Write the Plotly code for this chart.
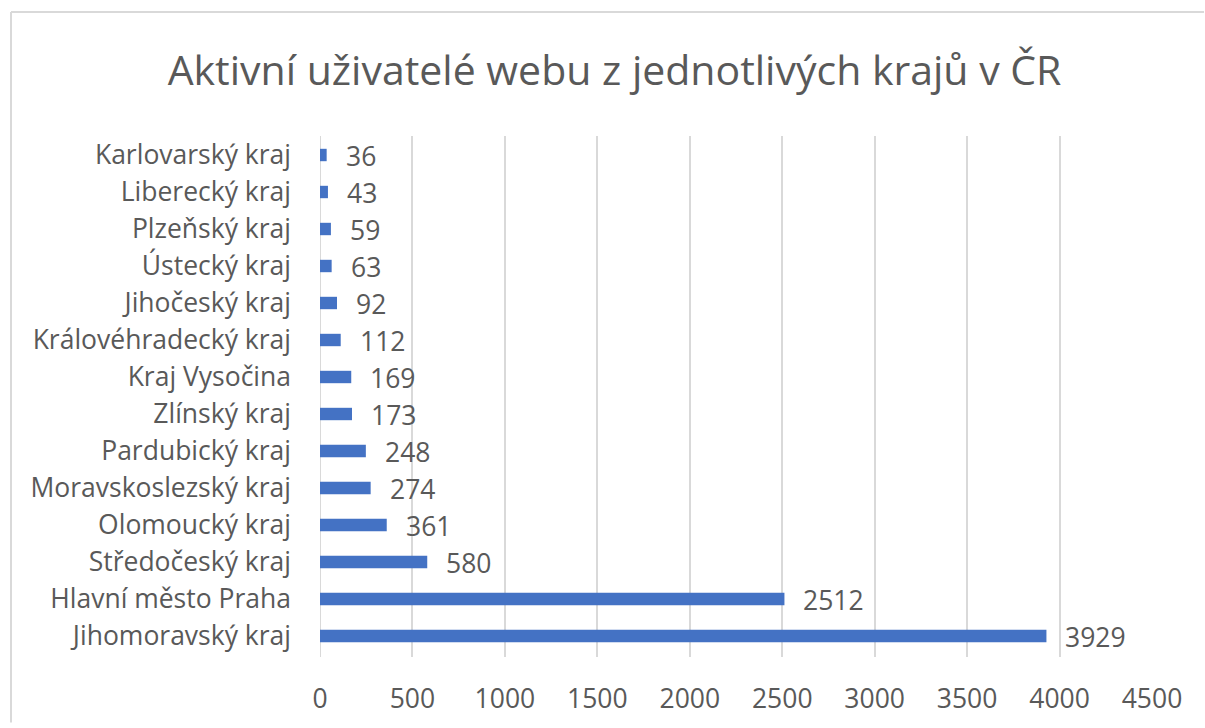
import plotly.graph_objects as go

categories = ["Jihomoravský kraj", "Hlavní město Praha", "Středočeský kraj", "Olomoucký kraj",
              "Moravskoslezský kraj", "Pardubický kraj", "Zlínský kraj", "Kraj Vysočina",
              "Královéhradecký kraj", "Jihočeský kraj", "Ústecký kraj", "Plzeňský kraj",
              "Liberecký kraj", "Karlovarský kraj"]
values = [3929, 2512, 580, 361, 274, 248, 173, 169, 112, 92, 63, 59, 43, 36]
x_ticks = [0, 500, 1000, 1500, 2000, 2500, 3000, 3500, 4000, 4500]

W, H = 1205, 728
L, R, T, B = 320, 53, 136, 67
FONT = "Open Sans"
GRAY = "#595959"
FS = 26.5

fig = go.Figure(go.Bar(
    y=categories, x=values, orientation="h",
    marker=dict(color="#4472C4", line=dict(width=0)),
    hoverinfo="skip",
))

annotations = [
    dict(x=v, y=c, xref="x", yref="y", text=str(v), showarrow=False,
         xanchor="left", yanchor="middle", xshift=17, yshift=-1,
         font=dict(family=FONT, size=FS, color=GRAY))
    for c, v in zip(categories, values)
]

pw, ph = W - L - R, H - T - B
def px_to_paper(px, py):
    return (px - L) / pw, (H - B - py) / ph

bx0, by0 = px_to_paper(11, 11)
bx1, by1 = px_to_paper(W - 1, H - 1)

fig.update_layout(
    width=W, height=H,
    margin=dict(l=L, r=R, t=T, b=B),
    paper_bgcolor="white", plot_bgcolor="white",
    bargap=0.665,
    showlegend=False,
    title=dict(text="Aktivní uživatelé webu z jednotlivých krajů v ČR",
               x=0.51, xanchor="center", y=1 - 71 / H, yanchor="middle",
               font=dict(family=FONT, size=41, color=GRAY)),
    xaxis=dict(range=[0, 4500], tickvals=x_ticks, showgrid=True,
               gridcolor="#D9D9D9", gridwidth=2, zeroline=False,
               showline=False, tickfont=dict(family=FONT, size=FS, color=GRAY),
               ticklabelstandoff=23, fixedrange=True),
    yaxis=dict(showgrid=False, zeroline=False, showline=False,
               tickfont=dict(family=FONT, size=FS, color=GRAY),
               ticklabelstandoff=28, fixedrange=True),
    annotations=annotations,
    shapes=[
        dict(type="line", xref="paper", yref="paper", x0=bx0, y0=by0, x1=bx1, y1=by0,
             line=dict(color="#D9D9D9", width=2), layer="below"),
        dict(type="line", xref="paper", yref="paper", x0=bx0, y0=by0, x1=bx0, y1=by1,
             line=dict(color="#D9D9D9", width=2), layer="below"),
        dict(type="line", xref="x", yref="paper", x0=0, x1=0, y0=0, y1=1,
             line=dict(color="#D9D9D9", width=2), layer="below"),
    ],
)

fig.write_html("out.html", config={"displayModeBar": False},
               post_script="document.body.style.margin='0px';document.body.style.overflow='hidden';")
